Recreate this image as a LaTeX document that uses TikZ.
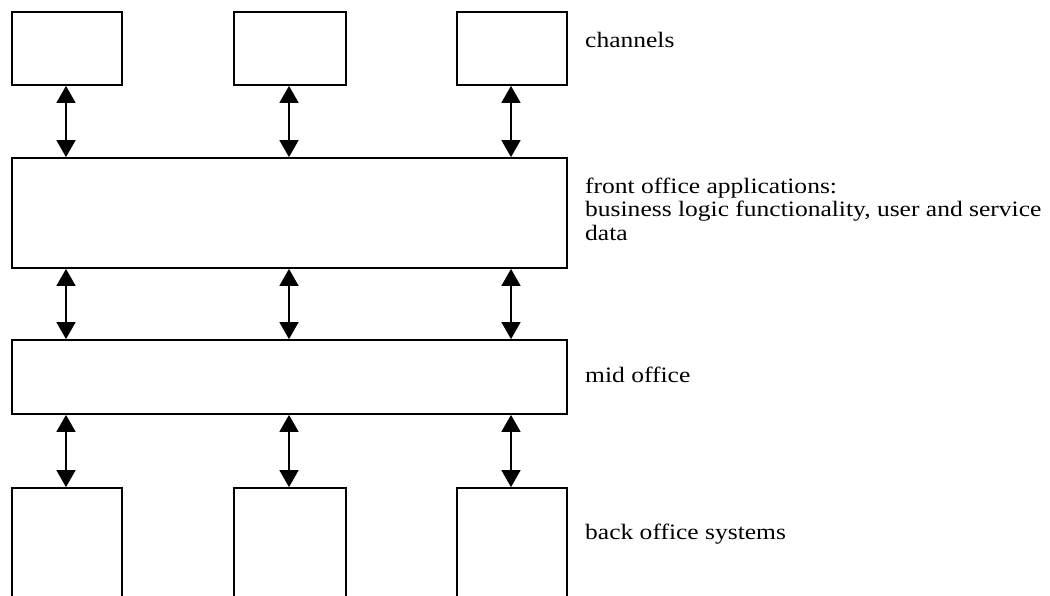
\documentclass[tikz,border=0pt]{standalone}
\usepackage{fontspec}
\setmainfont{Liberation Serif}[FakeStretch=1.16]
\usetikzlibrary{arrows.meta}
\begin{document}
\begin{tikzpicture}[x=1pt,y=-1pt,
  blk/.style={draw=black,line width=1.8pt,fill=white,rectangle,inner sep=0pt},
  conn/.style={line width=1.7pt,{Triangle[width=19pt,length=17pt]}-{Triangle[width=19pt,length=17pt]}},
  lbl/.style={anchor=base west,align=left,inner sep=0pt,font=\fontsize{22}{23.5}\selectfont}]
\useasboundingbox (0,0) rectangle (1050,595);
\clip (0,0) rectangle (1050,595);
% channels
\node[blk,minimum width=110pt,minimum height=73pt] (c1) at (67,48.5) {};
\node[blk,minimum width=112pt,minimum height=73pt] (c2) at (290,48.5) {};
\node[blk,minimum width=110pt,minimum height=73pt] (c3) at (512,48.5) {};
% front office
\node[blk,minimum width=555pt,minimum height=110pt] (fo) at (289.5,213) {};
% mid office
\node[blk,minimum width=555pt,minimum height=74pt] (mo) at (289.5,377) {};
% back office (extends past the lower edge)
\node[blk,minimum width=110pt,minimum height=140pt] (b1) at (67,558) {};
\node[blk,minimum width=112pt,minimum height=140pt] (b2) at (290,558) {};
\node[blk,minimum width=110pt,minimum height=140pt] (b3) at (512,558) {};
% connectors
\draw[conn] (c1.south -| 66,0) -- (fo.north -| 66,0);
\draw[conn] (c2.south -| 289,0) -- (fo.north -| 289,0);
\draw[conn] (c3.south -| 511,0) -- (fo.north -| 511,0);
\draw[conn] (fo.south -| 66,0) -- (mo.north -| 66,0);
\draw[conn] (fo.south -| 289,0) -- (mo.north -| 289,0);
\draw[conn] (fo.south -| 511,0) -- (mo.north -| 511,0);
\draw[conn] (mo.south -| 66,0) -- (b1.north -| 66,0);
\draw[conn] (mo.south -| 289,0) -- (b2.north -| 289,0);
\draw[conn] (mo.south -| 511,0) -- (b3.north -| 511,0);
% labels
\node[lbl] (l1) at (585,47) {channels};
\node[lbl] (l2) at (585,240) {front office applications:\\business logic functionality, user and service\\data};
\node[lbl] (l3) at (585,382) {mid office};
\node[lbl] (l4) at (585,539) {back office systems};
\end{tikzpicture}
\end{document}
